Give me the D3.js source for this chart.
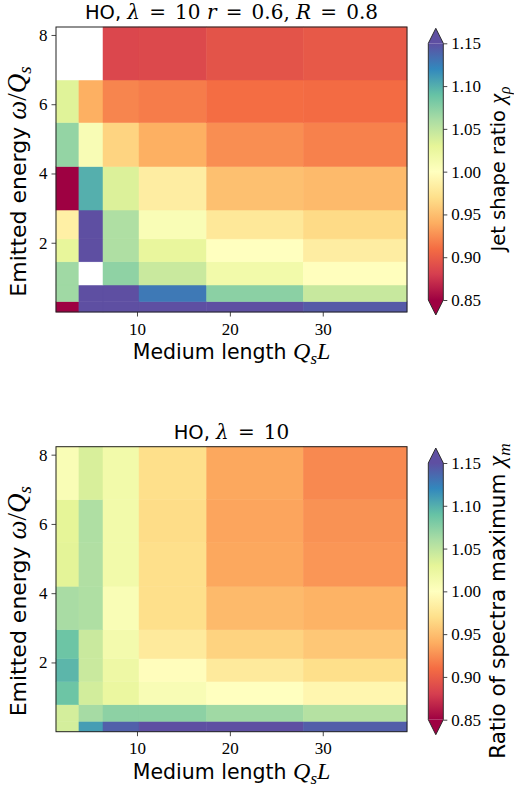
<!DOCTYPE html>
<html><head><meta charset="utf-8">
<script src="https://cdn.jsdelivr.net/npm/d3@7"></script>
<style>body{margin:0;background:#fff} svg{display:block} text{white-space:pre}</style>
</head><body><svg id="c" width="514" height="793"></svg>
<script>
// ---- data ----
const xEdges = [1.28, 3.75, 6.34, 10.22, 17.5, 27.9, 39.07];   // medium length Q_s L cell edges
const yEdges = [0, 0.3, 0.78, 1.45, 2.11, 2.945, 4.2, 5.47, 6.7, 8.23]; // omega/Q_s cell edges
const xTicks = [10, 20, 30];
const yTicks = [2, 4, 6, 8];
const cbTicks = [0.85, 0.90, 0.95, 1.00, 1.05, 1.10, 1.15];
// rows from lowest omega to highest; null = no value (white)
const jetShapeRatio = [
  [0.84, 1.16, 1.16, 1.16, 1.155, 1.144],
  [1.065, 1.16, 1.16, 1.128, 1.074, 1.046],
  [1.065, null, 1.072, 1.045, 1.016, 0.999],
  [1.028, 1.16, 1.058, 1.026, 1.0, 0.983],
  [0.985, 1.16, 1.058, 1.007, 0.978, 0.967],
  [0.84, 1.10, 1.035, 0.983, 0.951, 0.947],
  [1.07, 1.008, 0.963, 0.941, 0.925, 0.919],
  [1.033, 0.941, 0.921, 0.917, 0.91, 0.909],
  [null, null, 0.886, 0.887, 0.894, 0.897]
];
const spectraMaxRatio = [
  [1.039, 1.109, 1.141, 1.155, 1.155, 1.142],
  [1.039, 1.062, 1.073, 1.073, 1.065, 1.055],
  [1.087, 1.040, 1.024, 1.008, 1.0, 0.991],
  [1.096, 1.045, 1.020, 0.998, 0.980, 0.970],
  [1.087, 1.045, 1.014, 0.980, 0.962, 0.955],
  [1.061, 1.058, 1.007, 0.970, 0.947, 0.943],
  [1.031, 1.057, 1.016, 0.970, 0.937, 0.929],
  [1.030, 1.058, 1.016, 0.968, 0.936, 0.927],
  [1.007, 1.037, 1.016, 0.970, 0.937, 0.923]
];
const spectral = ["#9e0142","#d53e4f","#f46d43","#fdae61","#fee08b","#ffffbf","#e6f598","#abdda4","#66c2a5","#3288bd","#5e4fa2"];
const vmin = 0.85, vmax = 1.15;

// ---- layout ----
const svg = d3.select("#c");
const L = 56, R = 407;
const color = d3.scaleLinear()
  .domain(spectral.map((_, i) => vmin + (vmax - vmin) * i / (spectral.length - 1)))
  .range(spectral).clamp(true);

const defs = svg.append("defs");
const grad = defs.append("linearGradient").attr("id", "cbgrad")
  .attr("x1", 0).attr("y1", 1).attr("x2", 0).attr("y2", 0);
spectral.forEach((c, i) => grad.append("stop").attr("offset", i / (spectral.length - 1)).attr("stop-color", c));

const serif = "'Liberation Serif', 'DejaVu Serif', serif";
const serifWide = "'DejaVu Serif', 'Liberation Serif', serif";
const sans = "'DejaVu Sans', sans-serif";

// parts: [text, kind]; kinds: s=sans, i=math italic, n=math upright, eq=math equals, sub=math italic subscript
function rich(sel, parts, sansSize, mathSize, mathFont, eqPad) {
  let prevEq = false, shift = 0;
  parts.forEach(p => {
    const k = p[1];
    const t = sel.append("tspan")
      .attr("font-family", k === "s" ? sans : mathFont)
      .attr("font-size", k === "s" ? sansSize : (k === "sub" ? mathSize * 0.7 : mathSize))
      .attr("font-style", (k === "i" || k === "sub") ? "italic" : "normal")
      .text(k === "eq" ? " = " : p[0]);
    let dy = 0;
    if (k === "sub" && shift === 0) { dy = mathSize * 0.2; shift = dy; }
    else if (k !== "sub" && shift !== 0) { dy = -shift; shift = 0; }
    if (dy) t.attr("dy", dy);
    if (k === "eq" || prevEq) t.attr("dx", eqPad);
    prevEq = k === "eq";
  });
}

function panel(top, data, titleParts, cbLabelParts, cbLabelCenter, cbSans) {
  const bottom = top + 285;
  const x = d3.scaleLinear().domain([xEdges[0], xEdges[xEdges.length - 1]]).range([L, R]);
  const y = d3.scaleLinear().domain([yEdges[0], yEdges[yEdges.length - 1]]).range([bottom, top]);
  const g = svg.append("g");
  const cells = [];
  data.forEach((row, i) => row.forEach((v, j) => cells.push({i, j, v})));
  g.selectAll("rect.cell").data(cells).join("rect").attr("class", "cell")
    .attr("x", d => x(xEdges[d.j]))
    .attr("y", d => y(yEdges[d.i + 1]))
    .attr("width", d => x(xEdges[d.j + 1]) - x(xEdges[d.j]))
    .attr("height", d => y(yEdges[d.i]) - y(yEdges[d.i + 1]))
    .attr("fill", d => d.v == null ? "#fff" : color(d.v))
    .attr("stroke", d => d.v == null ? "#fff" : color(d.v))
    .attr("stroke-width", 0.5);
  // axes
  const ax = g.append("g").attr("transform", `translate(0,${bottom})`)
    .call(d3.axisBottom(x).tickValues(xTicks).tickSize(4.5).tickPadding(6).tickFormat(d3.format("d")));
  const ay = g.append("g").attr("transform", `translate(${L},0)`)
    .call(d3.axisLeft(y).tickValues(yTicks).tickSize(4.5).tickPadding(4).tickFormat(d3.format("d")));
  [ax, ay].forEach(a => {
    a.select(".domain").remove();
    a.selectAll("line").attr("stroke", "#333").attr("stroke-width", 0.9);
    a.selectAll("text").attr("font-family", serif).attr("font-size", 17).attr("fill", "#000");
  });
  g.append("rect").attr("x", L).attr("y", top).attr("width", R - L).attr("height", bottom - top)
    .attr("fill", "none").attr("stroke", "#222").attr("stroke-width", 1);
  // title
  const t = g.append("text").attr("x", (L + R) / 2).attr("y", top - 8).attr("text-anchor", "middle");
  rich(t, titleParts, 19.5, 20, serifWide, 2.8);
  // x label
  const xl = g.append("text").attr("x", (L + R) / 2).attr("y", bottom + 47).attr("text-anchor", "middle");
  rich(xl, [["Medium length ", "s"], ["Q", "i"], ["s", "sub"], ["L", "i"]], 20.5, 24, serif, 0);
  // y label
  const yl = g.append("text").attr("transform", `translate(26,${(top + bottom) / 2 + 12}) rotate(-90)`).attr("text-anchor", "middle");
  rich(yl, [["Emitted energy ", "s"], ["ω", "i"], ["/", "n"], ["Q", "i"], ["s", "sub"]], 22, 27, serif, 0);
  // colorbar
  const cbx = 428.3, cbw = 15, ext = 15;
  const cy = d3.scaleLinear().domain([vmin, vmax]).range([top + 273, top + 16.3]);
  const y0 = cy(vmin), y1 = cy(vmax);
  g.append("path").attr("d", `M${cbx},${y1} L${cbx + cbw / 2},${y1 - ext} L${cbx + cbw},${y1} Z`).attr("fill", color(vmax + 1));
  g.append("path").attr("d", `M${cbx},${y0} L${cbx + cbw / 2},${y0 + ext} L${cbx + cbw},${y0} Z`).attr("fill", color(vmin - 1));
  g.append("rect").attr("x", cbx).attr("y", y1).attr("width", cbw).attr("height", y0 - y1).attr("fill", "url(#cbgrad)");
  g.append("path").attr("d", `M${cbx},${y1} L${cbx + cbw / 2},${y1 - ext} L${cbx + cbw},${y1} L${cbx + cbw},${y0} L${cbx + cbw / 2},${y0 + ext} L${cbx},${y0} Z`)
    .attr("fill", "none").attr("stroke", "#222").attr("stroke-width", 0.9);
  const ac = g.append("g").attr("transform", `translate(${cbx + cbw},0)`)
    .call(d3.axisRight(cy).tickValues(cbTicks).tickSize(4).tickPadding(4).tickFormat(d3.format(".2f")));
  ac.select(".domain").remove();
  ac.selectAll("line").attr("stroke", "#333").attr("stroke-width", 0.9);
  ac.selectAll("text").attr("font-family", serif).attr("font-size", 17).attr("fill", "#000");
  const cl = g.append("text").attr("transform", `translate(505,${cbLabelCenter}) rotate(-90)`).attr("text-anchor", "middle");
  rich(cl, cbLabelParts, cbSans, cbSans * 1.15, serif, 0);
}

panel(27, jetShapeRatio,
  [["HO, ", "s"], ["λ", "i"], ["=", "eq"], ["10", "n"], [" ", "n"], ["r", "i"], ["=", "eq"], ["0.6, ", "n"], ["R", "i"], ["=", "eq"], ["0.8", "n"]],
  [["Jet shape ratio ", "s"], ["χ", "i"], ["ρ", "sub"]], 169, 19.5);
panel(446.7, spectraMaxRatio,
  [["HO, ", "s"], ["λ", "i"], ["=", "eq"], ["10", "n"]],
  [["Ratio of spectra maximum ", "s"], ["χ", "i"], ["m", "sub"]], 601, 21.5);
</script></body></html>
